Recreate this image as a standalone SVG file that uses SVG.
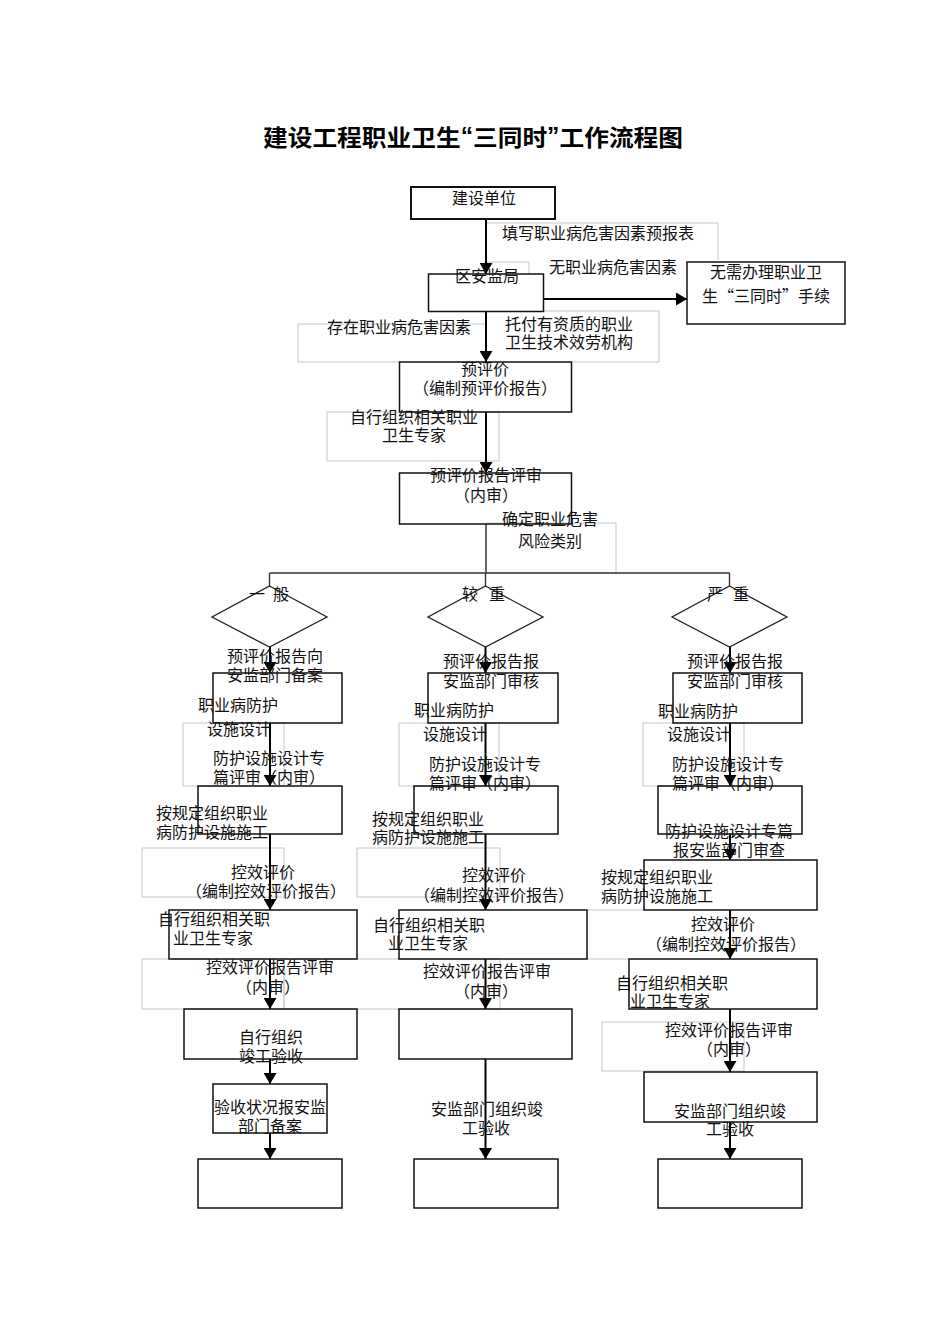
<svg xmlns="http://www.w3.org/2000/svg" width="950" height="1344" viewBox="0 0 950 1344">
<style>
.bg{fill:#fff}
.box{fill:none;stroke:#111;stroke-width:1.5}
.g{fill:none;stroke:#c8c8c8;stroke-width:1}
.dm{fill:none;stroke:#222;stroke-width:1.3}
.ln{fill:none;stroke:#333;stroke-width:1.4}
.ar{fill:none;stroke:#000;stroke-width:2;marker-end:url(#ah)}
.t{font-family:"Noto Sans CJK SC","Noto Sans CJK TC",sans-serif;font-size:16px;fill:#111;dominant-baseline:central}
.c{text-anchor:middle}
.ttl{font-family:"Noto Sans CJK SC",sans-serif;font-size:23px;font-weight:bold;fill:#000;text-anchor:middle;dominant-baseline:central}
.q{font-family:"Liberation Sans",sans-serif}
</style>
<defs>
<marker id="ah" markerUnits="userSpaceOnUse" markerWidth="11" markerHeight="13" refX="11" refY="6.5" orient="auto">
<path d="M0,0 L11,6.5 L0,13 z" fill="#000"/>
</marker>
</defs>
<rect class="bg" x="0" y="0" width="950" height="1344"/>
<text class="ttl" x="473" y="136" textLength="420" lengthAdjust="spacingAndGlyphs">建设工程职业卫生<tspan class="q">“</tspan>三同时<tspan class="q">”</tspan>工作流程图</text>

<g id="labelframes">
<path class="g" d="M486,223 H718 V260"/>
<path class="g" d="M486,262 H529 V274"/>
<path class="g" d="M486,324 H298 V362 H400"/>
<path class="g" d="M544,311 H659 V362 H572"/>
<rect class="g" x="327" y="412" width="172" height="49"/>
<rect class="g" x="486" y="523" width="130" height="50"/>
<rect class="g" x="183" y="723" width="101" height="63"/>
<rect class="g" x="399" y="723" width="100" height="63"/>
<rect class="g" x="643" y="723" width="101" height="63"/>
<rect class="g" x="142" y="848" width="142" height="49"/>
<rect class="g" x="357" y="848" width="143" height="49"/>
<path class="g" d="M587,910 H644 M587,959 H629"/>
<rect class="g" x="142" y="959" width="142" height="50"/>
<rect class="g" x="284" y="959" width="216" height="50"/>
<rect class="g" x="602" y="1022" width="142" height="49"/>
</g>

<g id="connectors">
<path class="ar" d="M486,218 V274"/>
<path class="ar" d="M543,299 H687"/>
<path class="ar" d="M486,311 V362"/>
<path class="ar" d="M486,412 V473"/>
<path class="ln" d="M486,524 V573 M269.5,573 H729.5 M269.5,573 V586 M485.5,573 V586 M729.5,573 V586"/>
<path class="ar" d="M270,647 V673"/>
<path class="ar" d="M270,723 V786"/>
<path class="ar" d="M270,834 V910"/>
<path class="ar" d="M270,959 V1009"/>
<path class="ar" d="M270,1059 V1084"/>
<path class="ar" d="M270,1133 V1159"/>
<path class="ar" d="M485.5,647 V673"/>
<path class="ar" d="M485.5,723 V786"/>
<path class="ar" d="M485.5,834 V910"/>
<path class="ar" d="M485.5,959 V1009"/>
<path class="ar" d="M485.5,1059 V1159"/>
<path class="ar" d="M730,647 V673"/>
<path class="ar" d="M730,723 V786"/>
<path class="ar" d="M730,834 V860"/>
<path class="ar" d="M730,910 V959"/>
<path class="ar" d="M730,1009 V1072"/>
<path class="ar" d="M730,1122 V1159"/>
</g>

<g id="n-jianshe"><rect class="box" x="411" y="187" width="144" height="32" style="stroke-width:2"/><text class="t c" x="484" y="197">建设单位</text></g>
<g id="lbl-tianxie"><text class="t" x="502" y="232">填写职业病危害因素预报表</text></g>
<g id="n-anjianju"><rect class="box" x="428.5" y="274" width="115" height="37.5"/><text class="t c" x="487" y="275">区安监局</text></g>
<g id="lbl-wu"><text class="t" x="549" y="266">无职业病危害因素</text></g>
<g id="n-wuxu"><rect class="box" x="687" y="262" width="158" height="62"/><text class="t c"><tspan x="766" y="271">无需办理职业卫</tspan><tspan x="766" y="295">生“三同时”手续</tspan></text></g>
<g id="lbl-cunzai"><text class="t c" x="399" y="326">存在职业病危害因素</text></g>
<g id="lbl-tuofu"><text class="t"><tspan x="505" y="323">托付有资质的职业</tspan><tspan x="505" y="341">卫生技术效劳机构</tspan></text></g>
<g id="n-yupingjia"><rect class="box" x="399.5" y="362" width="172" height="50"/><text class="t c"><tspan x="485" y="368">预评价</tspan><tspan x="485" y="387">（编制预评价报告）</tspan></text></g>
<g id="lbl-zhuanjia1"><text class="t c"><tspan x="414" y="416">自行组织相关职业</tspan><tspan x="414" y="434">卫生专家</tspan></text></g>
<g id="n-pingshen"><rect class="box" x="399.5" y="473" width="172" height="51"/><text class="t c"><tspan x="486" y="474">预评价报告评审</tspan><tspan x="486" y="494">（内审）</tspan></text></g>
<g id="lbl-queding"><text class="t c"><tspan x="550" y="518">确定职业危害</tspan><tspan x="550" y="540">风险类别</tspan></text></g>

<g id="d-yiban"><path class="dm" d="M269.5,586 L327,617 L269.5,647 L212,617 Z"/><text class="t c" x="257 281" y="593">一般</text></g>
<g id="d-jiaozhong"><path class="dm" d="M485.5,586 L543,617 L485.5,647 L428,617 Z"/><text class="t c" x="470 497" y="593">较重</text></g>
<g id="d-yanzhong"><path class="dm" d="M729.5,586 L787,617 L729.5,647 L672,617 Z"/><text class="t c" x="715 741" y="593">严重</text></g>

<g id="n-L1"><rect class="box" x="213" y="673" width="129" height="50"/><text class="t c"><tspan x="275" y="655">预评价报告向</tspan><tspan x="275" y="674">安监部门备案</tspan></text></g>
<g id="lbl-L-sheji"><text class="t"><tspan x="198" y="704">职业病防护</tspan><tspan x="207" y="728">设施设计</tspan></text></g>
<g id="lbl-L-zhuanpian"><text class="t"><tspan x="213" y="757">防护设施设计专</tspan><tspan x="213" y="776">篇评审（内审）</tspan></text></g>
<g id="n-L3"><rect class="box" x="198" y="786" width="144" height="48"/><text class="t"><tspan x="156" y="812">按规定组织职业</tspan><tspan x="156" y="831">病防护设施施工</tspan></text></g>
<g id="lbl-L-kongxiao"><text class="t c"><tspan x="263" y="871">控效评价</tspan><tspan x="266" y="890">（编制控效评价报告）</tspan></text></g>
<g id="n-L5"><rect class="box" x="169" y="910" width="188" height="49"/><text class="t"><tspan x="158" y="918">自行组织相关职</tspan><tspan x="173" y="937">业卫生专家</tspan></text></g>
<g id="lbl-L-pingshen"><text class="t c"><tspan x="270" y="966">控效评价报告评审</tspan><tspan x="268" y="986">（内审）</tspan></text></g>
<g id="n-L7"><rect class="box" x="184" y="1009" width="173" height="50"/><text class="t c"><tspan x="271" y="1036">自行组织</tspan><tspan x="271" y="1055">竣工验收</tspan></text></g>
<g id="n-L8"><rect class="box" x="213" y="1084" width="114" height="49"/><text class="t c"><tspan x="270" y="1106">验收状况报安监</tspan><tspan x="270" y="1125">部门备案</tspan></text></g>
<g id="n-L9"><rect class="box" x="198" y="1159" width="144" height="49"/></g>

<g id="n-M1"><rect class="box" x="428" y="673" width="130" height="50"/><text class="t c"><tspan x="491" y="660">预评价报告报</tspan><tspan x="491" y="680">安监部门审核</tspan></text></g>
<g id="lbl-M-sheji"><text class="t"><tspan x="414" y="709">职业病防护</tspan><tspan x="423" y="733">设施设计</tspan></text></g>
<g id="lbl-M-zhuanpian"><text class="t"><tspan x="429" y="763">防护设施设计专</tspan><tspan x="429" y="782">篇评审（内审）</tspan></text></g>
<g id="n-M3"><rect class="box" x="414" y="786" width="144" height="48"/><text class="t"><tspan x="372" y="818">按规定组织职业</tspan><tspan x="372" y="836">病防护设施施工</tspan></text></g>
<g id="lbl-M-kongxiao"><text class="t c"><tspan x="494" y="874">控效评价</tspan><tspan x="494" y="894">（编制控效评价报告）</tspan></text></g>
<g id="n-M5"><rect class="box" x="399" y="910" width="188" height="49"/><text class="t"><tspan x="373" y="924">自行组织相关职</tspan><tspan x="388" y="942">业卫生专家</tspan></text></g>
<g id="lbl-M-pingshen"><text class="t c"><tspan x="487" y="970">控效评价报告评审</tspan><tspan x="486" y="990">（内审）</tspan></text></g>
<g id="n-M7"><rect class="box" x="399" y="1009" width="173" height="50"/></g>
<g id="lbl-M-yanshou"><text class="t c"><tspan x="487" y="1108">安监部门组织竣</tspan><tspan x="486" y="1127">工验收</tspan></text></g>
<g id="n-M9"><rect class="box" x="414" y="1159" width="144" height="49"/></g>

<g id="n-R1"><rect class="box" x="673" y="673" width="129" height="50"/><text class="t c"><tspan x="735" y="660">预评价报告报</tspan><tspan x="735" y="680">安监部门审核</tspan></text></g>
<g id="lbl-R-sheji"><text class="t"><tspan x="658" y="710">职业病防护</tspan><tspan x="667" y="733">设施设计</tspan></text></g>
<g id="lbl-R-zhuanpian"><text class="t"><tspan x="672" y="763">防护设施设计专</tspan><tspan x="672" y="782">篇评审（内审）</tspan></text></g>
<g id="n-R3"><rect class="box" x="658" y="786" width="144" height="48"/><text class="t c"><tspan x="729" y="830">防护设施设计专篇</tspan><tspan x="729" y="849">报安监部门审查</tspan></text></g>
<g id="n-R4"><rect class="box" x="644" y="860" width="173" height="50"/><text class="t"><tspan x="601" y="876">按规定组织职业</tspan><tspan x="601" y="895">病防护设施施工</tspan></text></g>
<g id="lbl-R-kongxiao"><text class="t c"><tspan x="723" y="923">控效评价</tspan><tspan x="726" y="943">（编制控效评价报告）</tspan></text></g>
<g id="n-R5"><rect class="box" x="629" y="959" width="188" height="50"/><text class="t"><tspan x="616" y="982">自行组织相关职</tspan><tspan x="630" y="1000">业卫生专家</tspan></text></g>
<g id="lbl-R-pingshen"><text class="t c"><tspan x="729" y="1029">控效评价报告评审</tspan><tspan x="729" y="1048">（内审）</tspan></text></g>
<g id="n-R7"><rect class="box" x="644" y="1072" width="173" height="50"/><text class="t c"><tspan x="730" y="1110">安监部门组织竣</tspan><tspan x="730" y="1128">工验收</tspan></text></g>
<g id="n-R9"><rect class="box" x="658" y="1159" width="144" height="49"/></g>
</svg>
